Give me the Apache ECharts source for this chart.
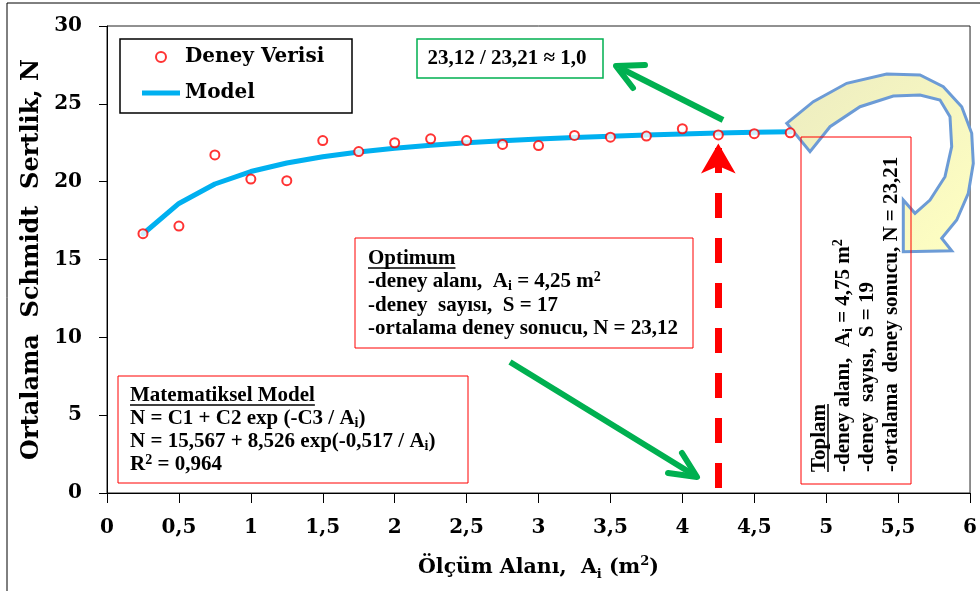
<!DOCTYPE html>
<html><head><meta charset="utf-8">
<script src="https://cdn.jsdelivr.net/npm/echarts/dist/echarts.min.js"></script>
<style>html,body{margin:0;padding:0;background:#fff;}#c{width:980px;height:591px;}</style>
</head><body><div id="c"></div>
<script>
// ---- data ----
const areas = [0.25,0.5,0.75,1.0,1.25,1.5,1.75,2.0,2.25,2.5,2.75,3.0,3.25,3.5,3.75,4.0,4.25,4.5,4.75];
const measuredN = [16.66,17.15,21.72,20.17,20.06,22.64,21.93,22.50,22.75,22.64,22.39,22.32,22.97,22.86,22.93,23.40,23.00,23.08,23.14];
const modelN = [16.64,18.60,19.85,20.65,21.20,21.60,21.91,22.15,22.34,22.50,22.63,22.74,22.84,22.92,22.99,23.06,23.12,23.17,23.21];
const optimumArea = 4.25;
const optimumArrowTop = 22.45;
const xMin = 0, xMax = 6, xStep = 0.5;
const yMin = 0, yMax = 30, yStep = 5;

const T = 'Liberation Serif';
const B = 'DejaVu Serif';
const FS = 21;

const scatterData = areas.map((a,i)=>[a, measuredN[i]]);
const modelData = areas.map((a,i)=>[a, modelN[i]]);
const comma = v => String(v).replace('.', ',');

function textWidth(str, font){
  const c = document.createElement('canvas').getContext('2d');
  c.font = font; return c.measureText(str).width;
}

const annRich = (lh) => ({
  h:{fontFamily:T,fontWeight:'bold',fontSize:FS,lineHeight:lh,fill:'#000'},
  n:{fontFamily:T,fontWeight:'bold',fontSize:FS,lineHeight:lh,fill:'#000'},
  sub:{fontFamily:T,fontWeight:'bold',fontSize:14,lineHeight:13,verticalAlign:'bottom',fill:'#000'},
  sup:{fontFamily:T,fontWeight:'bold',fontSize:14,lineHeight:10,verticalAlign:'top',fill:'#000'}
});

function annText(x, y, text, lh){
  return {type:'text', x:x, y:y, style:{text:text, rich:annRich(lh), fontFamily:T, fontWeight:'bold', fontSize:FS, lineHeight:lh, align:'left', verticalAlign:'top', fill:'#000'}};
}
function underline(x, y, word){
  const w = textWidth(word, 'bold ' + FS + 'px "Liberation Serif"');
  return {type:'line', shape:{x1:x, y1:y, x2:x+w, y2:y}, style:{stroke:'#000', lineWidth:1.5}};
}

const curvedArrow = [
  [786.7,123.3],[813.3,101.7],[846.7,83.3],[886.7,74],[920,75],[943.3,86.7],[961.7,106.7],[971.7,133.3],
  [973.3,163.3],[968.3,193.3],[956.7,220],[941.7,238.3],[951.7,250.7],[903.3,251.7],[903.3,200],[915,213.3],
  [930,200],[945,176.7],[951.7,146.7],[950,116.7],[940,100],[920,95],[893.3,96],[860,106.7],[830,126.7],[810,151.7]
];

const graphics = [
  {type:'rect', shape:{x:7,y:3,width:1000,height:700}, style:{fill:'none', stroke:'#000', lineWidth:1}},
  {type:'rect', shape:{x:120,y:39,width:232,height:74}, style:{fill:'#fff', stroke:'#000', lineWidth:1.5}},
  {type:'polygon', shape:{points:curvedArrow}, style:{fill:{type:'linear',x:0,y:0,x2:1,y2:1,colorStops:[{offset:0,color:'#ECECC0'},{offset:1,color:'#FFFFC2'}]}, stroke:'#6C9BD6', lineWidth:3, lineJoin:'miter'}},
  // Toplam (vertical)
  {type:'rect', shape:{x:801,y:137,width:110,height:347}, style:{fill:'none', stroke:'#FF0000', lineWidth:1}},
  {type:'group', x:807, y:472, rotation:Math.PI/2, children:[
    annText(0, 0, '{h|Toplam}\n{n|-deney alanı,  A}{sub|i}{n| = 4,75 m}{sup|2}\n{n|-deney  sayısı,  S = 19}\n{n|-ortalama  deney sonucu, N = 23,21}', 24.3),
    underline(0, 21, 'Toplam')
  ]},
  // Optimum
  {type:'rect', shape:{x:355,y:238,width:338,height:110}, style:{fill:'#fff', stroke:'#FF0000', lineWidth:1}},
  annText(368, 246.5, '{h|Optimum}\n{n|-deney alanı,  A}{sub|i}{n| = 4,25 m}{sup|2}\n{n|-deney  sayısı,  S = 17}\n{n|-ortalama deney sonucu, N = 23,12}', 23.5),
  underline(368, 268, 'Optimum'),
  // Matematiksel Model
  {type:'rect', shape:{x:118,y:376,width:350,height:107}, style:{fill:'#fff', stroke:'#FF0000', lineWidth:1}},
  annText(130, 383.5, '{h|Matematiksel Model}\n{n|N = C1 + C2 exp (-C3 / A}{sub|i}{n|)}\n{n|N = 15,567 + 8,526 exp(-0,517 / A}{sub|i}{n|)}\n{n|R}{sup|2}{n| = 0,964}', 23.3),
  underline(130, 405, 'Matematiksel Model'),
  // ratio box
  {type:'rect', shape:{x:417,y:39,width:186,height:39}, style:{fill:'#fff', stroke:'#00B050', lineWidth:1.5}},
  {type:'text', x:507, y:58.5, style:{text:'23,12 / 23,21 ≈ 1,0', fontFamily:T, fontWeight:'bold', fontSize:FS, align:'center', verticalAlign:'middle', fill:'#000'}},
  // green arrows
  {type:'polyline', shape:{points:[[723,120],[619,67.5]]}, style:{stroke:'#00B050', lineWidth:6, lineCap:'butt'}},
  {type:'polyline', shape:{points:[[645,65],[616,66],[633,88]]}, style:{stroke:'#00B050', lineWidth:6, lineCap:'round', lineJoin:'round', fill:'none'}},
  {type:'polyline', shape:{points:[[510,362],[694,475]]}, style:{stroke:'#00B050', lineWidth:6, lineCap:'butt'}},
  {type:'polyline', shape:{points:[[682,453],[697,477],[668,473]]}, style:{stroke:'#00B050', lineWidth:6, lineCap:'round', lineJoin:'round', fill:'none'}}
];

const chart = echarts.init(document.getElementById('c'), null, {renderer:'canvas', width:980, height:591});
chart.setOption({
  animation:false,
  backgroundColor:'#fff',
  grid:{left:107, right:5, top:26, bottom:98, show:true, borderColor:'#222', borderWidth:1, backgroundColor:'transparent'},
  legend:{
    left:142, top:44, padding:0, orient:'vertical', itemWidth:38, itemHeight:10, itemGap:10, selectedMode:false,
    textStyle:{fontFamily:B, fontWeight:'bold', fontSize:20, lineHeight:26, color:'#000'},
    data:[{name:'Deney Verisi'}, {name:'Model', icon:'path://M0,0L38,0L38,5L0,5Z'}]
  },
  xAxis:{
    type:'value', min:xMin, max:xMax, interval:xStep,
    axisLine:{show:true, lineStyle:{color:'#000', width:1}},
    axisTick:{show:true, length:10, lineStyle:{color:'#000'}},
    splitLine:{show:false},
    axisLabel:{margin:25, formatter:comma, fontFamily:B, fontWeight:'bold', fontSize:20, color:'#000'},
    name:'{a|Ölçüm Alanı,  A}{sub|i}{a| (m}{sup|2}{a|)}', nameLocation:'middle', nameGap:62,
    nameTextStyle:{fontFamily:B, fontWeight:'bold', fontSize:20.5, color:'#000', rich:{
      a:{fontFamily:B, fontWeight:'bold', fontSize:20.5, lineHeight:26, color:'#000'},
      sub:{fontFamily:B, fontWeight:'bold', fontSize:13, lineHeight:13, verticalAlign:'bottom', color:'#000'},
      sup:{fontFamily:B, fontWeight:'bold', fontSize:13, lineHeight:10, verticalAlign:'top', color:'#000'}
    }}
  },
  yAxis:{
    type:'value', min:yMin, max:yMax, interval:yStep,
    axisLine:{show:true, lineStyle:{color:'#000', width:1}},
    axisTick:{show:true, length:8, lineStyle:{color:'#000'}},
    splitLine:{show:false},
    axisLabel:{margin:25, formatter:comma, fontFamily:B, fontWeight:'bold', fontSize:20, color:'#000'},
    name:'Ortalama  Schmidt  Sertlik, N', nameLocation:'middle', nameGap:57, nameRotate:90,
    nameTextStyle:{fontFamily:B, fontWeight:'bold', fontSize:24, color:'#000'}
  },
  graphic:graphics,
  series:[
    {
      type:'line', name:'Model', data:modelData, symbol:'none', z:2,
      lineStyle:{color:'#00B0F0', width:5, cap:'round', join:'round'},
      itemStyle:{color:'#00B0F0'},
      markLine:{
        silent:true, animation:false, symbol:['none','arrow'], symbolSize:[26,30],
        label:{show:false},
        lineStyle:{color:'#FF0000', width:7, type:[25,20], dashOffset:40, opacity:1},
        data:[[{coord:[optimumArea, 0]}, {coord:[optimumArea, optimumArrowTop]}]]
      }
    },
    {
      type:'scatter', name:'Deney Verisi', data:scatterData, symbol:'emptyCircle', symbolSize:9, z:3,
      itemStyle:{color:'#FF0000', borderColor:'#FF0000', borderWidth:1.5}
    }
  ]
});
</script></body></html>
